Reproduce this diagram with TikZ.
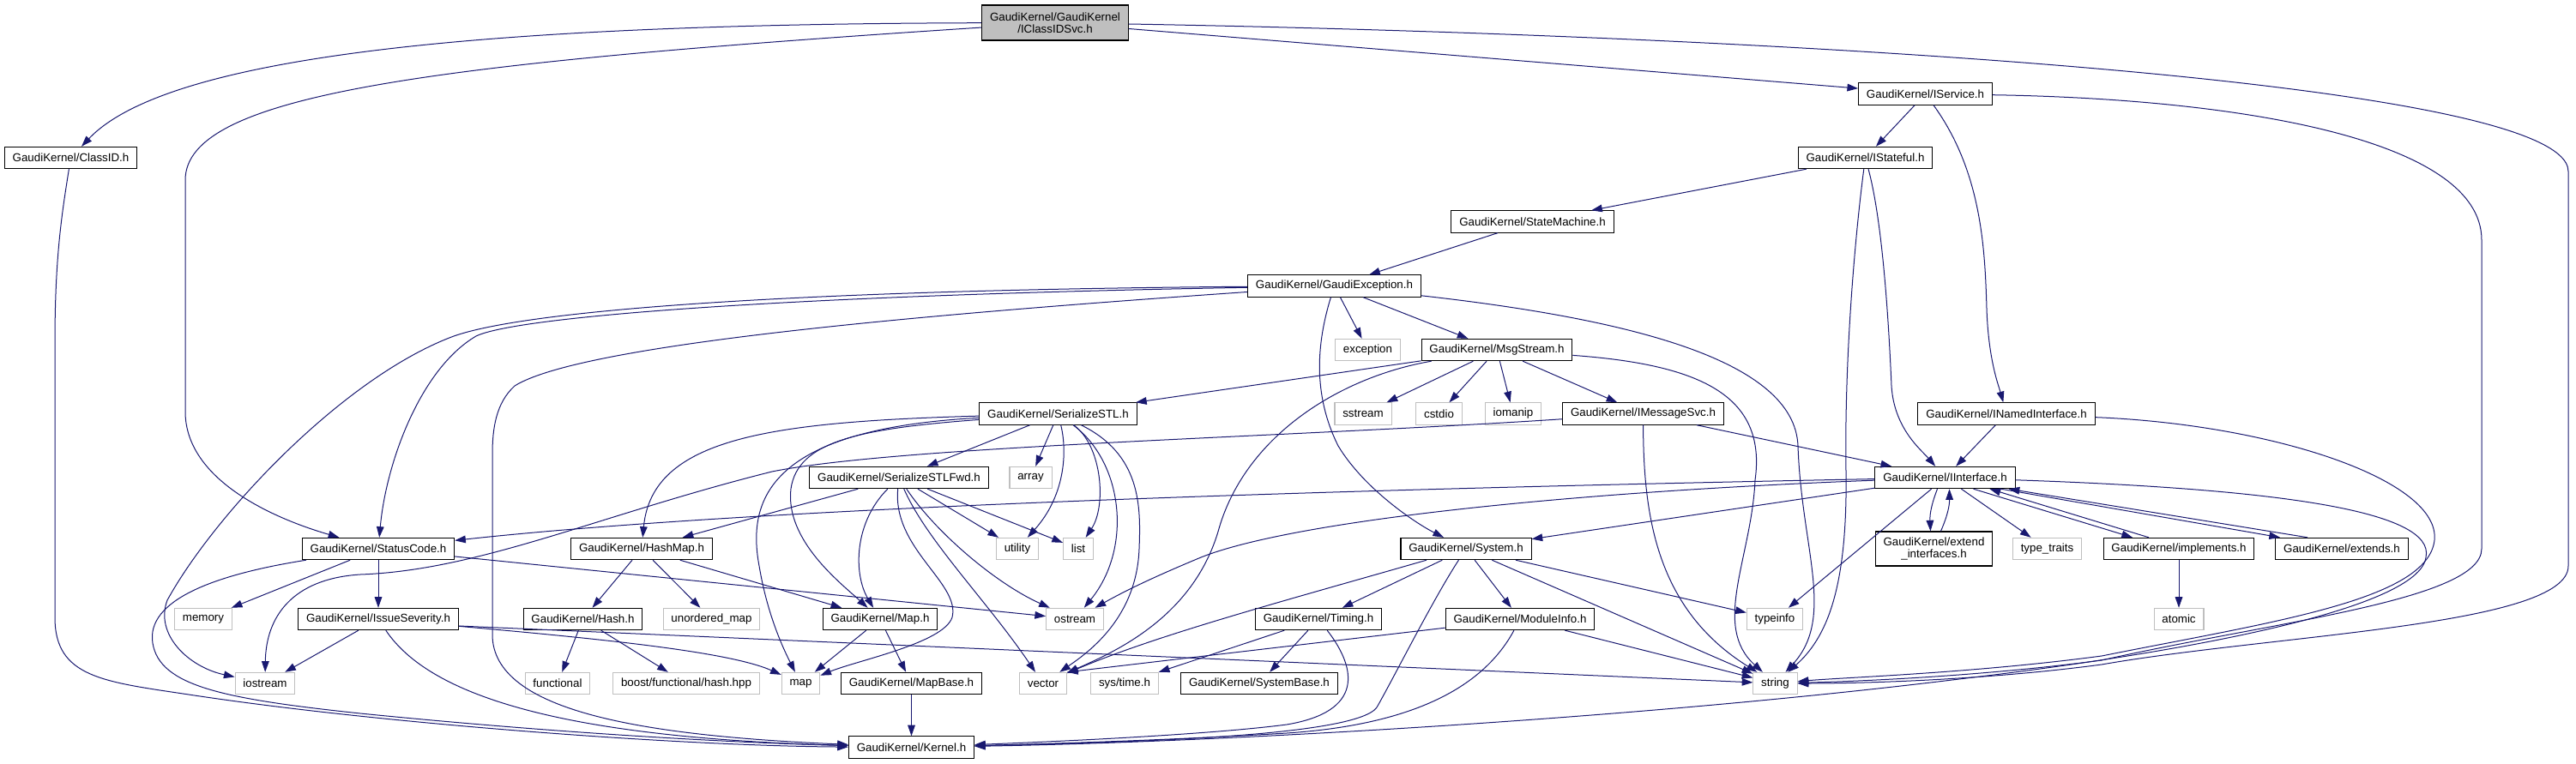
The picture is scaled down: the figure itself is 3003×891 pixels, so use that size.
\documentclass[tikz,border=0pt]{standalone}
\usepackage{fontspec}
\setmainfont{Liberation Sans}
\usetikzlibrary{arrows.meta}
\definecolor{linkblue}{HTML}{191970}
\definecolor{boxgrey}{HTML}{BFBFBF}
\tikzset{
        file/.style={draw, fill=white, line width=0.8pt, minimum height=19pt, inner xsep=7pt, inner ysep=1pt, align=center, font=\fontsize{10}{10.5}\selectfont},
        sys/.style={file, draw=boxgrey},
        root/.style={file, fill=boxgrey, minimum height=30.75pt},
        dep/.style={draw=linkblue, line width=0.75pt, -{Triangle[length=9.5pt, width=6.5pt]}}
    }

\begin{document}
\begin{tikzpicture}[x=0.75pt, y=-0.75pt]
            \useasboundingbox (0, 0) rectangle (3003, 891);

            \node [root] (1) at (1230, 26.5) {GaudiKernel/GaudiKernel\\/IClassIDSvc.h};
            \node [file] (2) at (2244.5, 109.5) {GaudiKernel/IService.h};
            \node [file] (3) at (82.5, 184) {GaudiKernel/ClassID.h};
            \node [file] (4) at (2174.5, 184) {GaudiKernel/IStateful.h};
            \node [file] (5) at (1786.5, 258.5) {GaudiKernel/StateMachine.h};
            \node [file] (6) at (1555.5, 333.5) {GaudiKernel/GaudiException.h};
            \node [sys] (7) at (1594.5, 408) {exception};
            \node [file] (8) at (1745, 408) {GaudiKernel/MsgStream.h};
            \node [file] (9) at (1233.5, 482.5) {GaudiKernel/SerializeSTL.h};
            \node [sys] (10) at (1589, 482.5) {sstream};
            \node [sys] (11) at (1677.5, 482.5) {cstdio};
            \node [sys] (12) at (1764, 482.5) {iomanip};
            \node [file] (13) at (1915.5, 482.5) {GaudiKernel/IMessageSvc.h};
            \node [file] (14) at (2339, 482.5) {GaudiKernel/INamedInterface.h};
            \node [file] (15) at (1048, 557) {GaudiKernel/SerializeSTLFwd.h};
            \node [sys] (16) at (1201.5, 557) {array};
            \node [file] (17) at (2267.5, 557) {GaudiKernel/IInterface.h};
            \node [file] (18) at (441, 640) {GaudiKernel/StatusCode.h};
            \node [file] (19) at (748, 640) {GaudiKernel/HashMap.h};
            \node [sys] (20) at (1186, 640) {utility};
            \node [sys] (21) at (1257, 640) {list};
            \node [file] (22) at (1709, 640) {GaudiKernel/System.h};
            \node [file, minimum height=30pt] (23) at (2254.5, 640) {GaudiKernel/extend\\\_interfaces.h};
            \node [sys] (24) at (2386.5, 640) {type\_traits};
            \node [file] (25) at (2540, 640) {GaudiKernel/implements.h};
            \node [file] (26) at (2730, 640) {GaudiKernel/extends.h};
            \node [sys] (27) at (237, 722) {memory};
            \node [file] (28) at (441, 722) {GaudiKernel/IssueSeverity.h};
            \node [file] (29) at (679.5, 722) {GaudiKernel/Hash.h};
            \node [sys] (30) at (829.5, 722) {unordered\_map};
            \node [file] (31) at (1026, 722) {GaudiKernel/Map.h};
            \node [sys] (32) at (1253, 722) {ostream};
            \node [file] (33) at (1537, 722) {GaudiKernel/Timing.h};
            \node [file] (34) at (1772, 722) {GaudiKernel/ModuleInfo.h};
            \node [sys] (35) at (2069, 722) {typeinfo};
            \node [sys] (36) at (2540, 722) {atomic};
            \node [sys] (37) at (309, 797) {iostream};
            \node [sys] (38) at (650, 797) {functional};
            \node [sys] (39) at (800, 797) {boost/functional/hash.hpp};
            \node [sys] (40) at (933.5, 797) {map};
            \node [file] (41) at (1062.5, 797) {GaudiKernel/MapBase.h};
            \node [sys] (42) at (1216, 797) {vector};
            \node [sys] (43) at (1311, 797) {sys/time.h};
            \node [file] (44) at (1468, 797) {GaudiKernel/SystemBase.h};
            \node [sys] (45) at (2069.5, 797) {string};
            \node [file] (46) at (1062.5, 871.5) {GaudiKernel/Kernel.h};

            \draw [dep] (1) .. controls (600, 28) and (200, 60) .. (3);
            \draw [dep] (1) .. controls (500, 74) and (216, 110) .. (216, 210) -- (216, 480) .. controls (216, 560) and (320, 605) .. (18);
            \draw [dep] (1) -- (2);
            \draw [dep] (1) .. controls (2000, 40) and (2994, 90) .. (2994, 200) -- (2994, 660) .. controls (2994, 730) and (2650, 740) .. (2450, 775) .. controls (2300, 795) and (2150, 797) .. (45);
            \draw [dep] (3) .. controls (72, 250) and (64, 300) .. (64, 400) -- (64, 720) .. controls (64, 790) and (120, 795) .. (220, 810) .. controls (450, 845) and (800, 870) .. (46);
            \draw [dep] (2) -- (4);
            \draw [dep] (2) .. controls (2310, 200) and (2314, 290) .. (2316, 360) .. controls (2318, 420) and (2330, 450) .. (14);
            \draw [dep] (2) .. controls (2600, 115) and (2893, 160) .. (2893, 280) -- (2893, 640) .. controls (2893, 700) and (2650, 725) .. (2450, 770) .. controls (2300, 790) and (2150, 795) .. (45);
            \draw [dep] (4) -- (5);
            \draw [dep] (4) .. controls (2195, 260) and (2202, 380) .. (2205, 450) .. controls (2208, 500) and (2240, 525) .. (17);
            \draw [dep] (4) .. controls (2162, 280) and (2150, 420) .. (2152, 550) .. controls (2154, 690) and (2128, 745) .. (45);
            \draw [dep] (5) -- (6);
            \draw [dep] (6) .. controls (950, 338) and (620, 360) .. (529, 392) .. controls (400, 440) and (250, 600) .. (195, 700) .. controls (180, 740) and (220, 778) .. (37);
            \draw [dep] (6) .. controls (900, 345) and (600, 370) .. (555, 392) .. controls (490, 430) and (450, 540) .. (18);
            \draw [dep] (6) .. controls (1100, 365) and (680, 400) .. (600, 450) .. controls (578, 470) and (574, 500) .. (574, 530) -- (574, 740) .. controls (574, 830) and (750, 858) .. (46);
            \draw [dep] (6) .. controls (1535, 400) and (1530, 460) .. (1560, 520) .. controls (1590, 570) and (1650, 610) .. (22);
            \draw [dep] (6) -- (7);
            \draw [dep] (6) -- (8);
            \draw [dep] (6) .. controls (1900, 372) and (2092, 420) .. (2096, 520) .. controls (2100, 640) and (2140, 720) .. (45);
            \draw [dep] (8) -- (9);
            \draw [dep] (8) .. controls (1560, 440) and (1450, 510) .. (1420, 620) .. controls (1390, 720) and (1300, 760) .. (42);
            \draw [dep] (8) -- (10);
            \draw [dep] (8) -- (11);
            \draw [dep] (8) -- (12);
            \draw [dep] (8) -- (13);
            \draw [dep] (8) .. controls (1980, 425) and (2060, 460) .. (2046, 560) .. controls (2042, 650) and (1995, 730) .. (45);
            \draw [dep] (9) .. controls (900, 492) and (760, 510) .. (19);
            \draw [dep] (9) .. controls (1000, 500) and (930, 515) .. (922, 570) .. controls (915, 630) and (980, 680) .. (31);
            \draw [dep] (9) .. controls (900, 500) and (870, 580) .. (885, 660) .. controls (895, 720) and (915, 760) .. (40);
            \draw [dep] (9) -- (15);
            \draw [dep] (9) -- (16);
            \draw [dep] (9) .. controls (1245, 530) and (1240, 580) .. (20);
            \draw [dep] (9) .. controls (1285, 520) and (1290, 590) .. (21);
            \draw [dep] (9) .. controls (1310, 540) and (1320, 640) .. (32);
            \draw [dep] (9) .. controls (1330, 530) and (1330, 590) .. (1328, 640) .. controls (1325, 720) and (1270, 760) .. (42);
            \draw [dep] (15) -- (19);
            \draw [dep] (15) .. controls (995, 610) and (995, 670) .. (31);
            \draw [dep] (15) .. controls (1040, 640) and (1120, 680) .. (1110, 720) .. controls (1100, 750) and (1000, 770) .. (40);
            \draw [dep] (15) .. controls (1080, 630) and (1150, 700) .. (42);
            \draw [dep] (15) .. controls (1090, 620) and (1160, 680) .. (32);
            \draw [dep] (15) -- (20);
            \draw [dep] (15) -- (21);
            \draw [dep] (13) -- (17);
            \draw [dep] (13) .. controls (1500, 510) and (1050, 520) .. (900, 550) .. controls (700, 600) and (560, 665) .. (420, 670) .. controls (340, 675) and (310, 720) .. (37);
            \draw [dep] (13) .. controls (1916, 600) and (1930, 710) .. (45);
            \draw [dep] (14) -- (17);
            \draw [dep] (14) .. controls (2650, 495) and (2845, 560) .. (2838, 630) .. controls (2830, 700) and (2650, 725) .. (2450, 765) .. controls (2300, 785) and (2150, 790) .. (45);
            \draw [dep] (17) .. controls (1600, 570) and (900, 590) .. (18);
            \draw [dep] (17) .. controls (1800, 575) and (1500, 610) .. (1400, 650) .. controls (1340, 675) and (1310, 690) .. (32);
            \draw [dep] (17) -- (22);
            \draw [dep] (17) -- (35);
            \draw [dep] ([xshift=-6.75pt]17.south) to [bend right=12] ([xshift=-3pt]23.north);
            \draw [dep] ([xshift=6pt]23.north) to [bend right=12] ([xshift=3.75pt]17.south);
            \draw [dep] (17) -- (24);
            \draw [dep] ([xshift=24.75pt]17.south) -- ([xshift=-40.5pt]25.north);
            \draw [dep] ([xshift=-26.25pt]25.north) -- ([xshift=39pt]17.south);
            \draw [dep] ([xshift=48.75pt]17.south) -- ([xshift=-54pt]26.north);
            \draw [dep] ([xshift=-30pt]26.north) -- ([xshift=-6pt]17.south east);
            \draw [dep] (17) .. controls (2650, 570) and (2840, 595) .. (2828, 650) .. controls (2820, 710) and (2550, 760) .. (2300, 790) .. controls (1900, 840) and (1400, 866) .. (46);
            \draw [dep] (25) -- (36);
            \draw [dep] (22) .. controls (1500, 700) and (1350, 740) .. (42);
            \draw [dep] (22) -- (33);
            \draw [dep] (22) .. controls (1670, 700) and (1625, 790) .. (1605, 825) .. controls (1580, 860) and (1300, 866) .. (46);
            \draw [dep] (22) -- (34);
            \draw [dep] (22) -- (45);
            \draw [dep] (22) -- (35);
            \draw [dep] (33) -- (43);
            \draw [dep] (33) -- (44);
            \draw [dep] (33) .. controls (1582, 780) and (1590, 830) .. (1500, 845) .. controls (1400, 858) and (1200, 866) .. (46);
            \draw [dep] (34) -- (42.north east);
            \draw [dep] (34) .. controls (1730, 800) and (1650, 845) .. (1500, 855) .. controls (1350, 864) and (1200, 868) .. (46);
            \draw [dep] (34) -- (45);
            \draw [dep] (18) -- (27);
            \draw [dep] (18) -- (28);
            \draw [dep] (18) -- (32);
            \draw [dep] (18) .. controls (250, 670) and (170, 700) .. (178, 750) .. controls (186, 800) and (260, 815) .. (420, 832) .. controls (650, 855) and (850, 866) .. (46);
            \draw [dep] (28) -- (37);
            \draw [dep] (28) .. controls (500, 810) and (650, 860) .. (46);
            \draw [dep] (28) .. controls (700, 745) and (850, 760) .. (40);
            \draw [dep] ([yshift=-6pt]28.east) -- (45);
            \draw [dep] (19) -- (29);
            \draw [dep] (19) -- (30);
            \draw [dep] (19) -- (31);
            \draw [dep] (29) -- (38);
            \draw [dep] (29) -- (39);
            \draw [dep] (31) -- (40);
            \draw [dep] (31) -- (41);
            \draw [dep] (41) -- (46);
        \end{tikzpicture}
\end{document}
